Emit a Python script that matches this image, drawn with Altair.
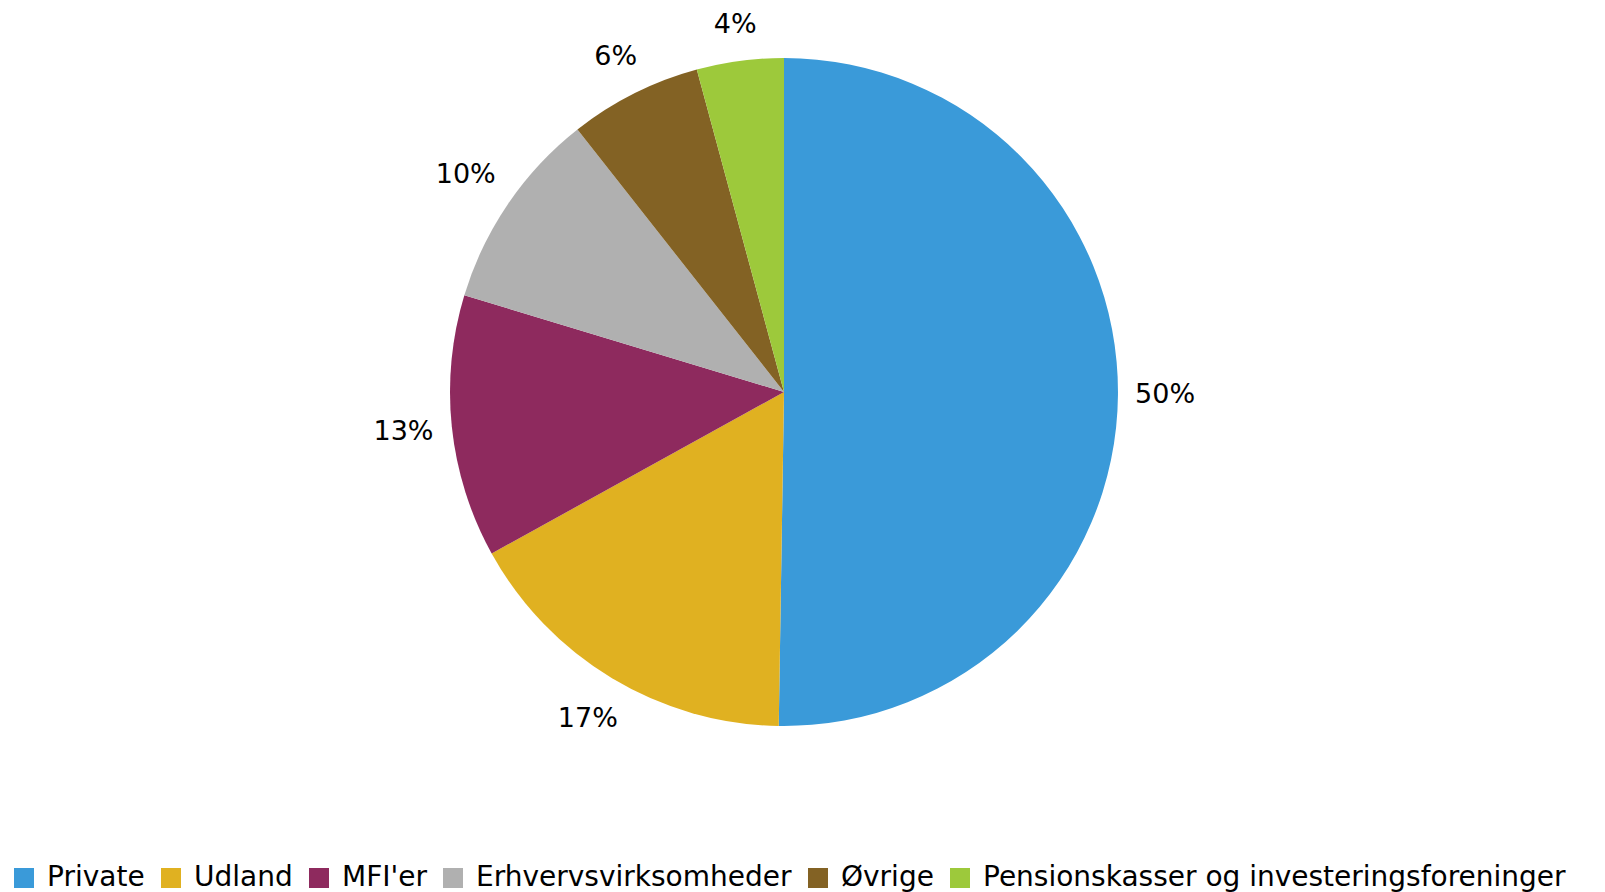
import altair as alt
import pandas as pd

categories = ["Private", "Udland", "MFI'er", "Erhvervsvirksomheder", "Øvrige",
              "Pensionskasser og investeringsforeninger"]
values = [50.2, 16.7, 12.7, 9.7, 6.4, 4.2]
labels = ["50%", "17%", "13%", "10%", "6%", "4%"]
colors = ["#3A9AD9", "#E0B121", "#8E2A5E", "#B0B0B0", "#836224", "#9DC93B"]

df = pd.DataFrame({"cat": categories, "val": values, "lab": labels,
                   "ord": list(range(len(categories)))})

FONT = "DejaVu Sans"
CX, CY = 776, 380
R = 334

pie = alt.Chart(df).mark_arc(outerRadius=R).encode(
    theta=alt.Theta("val:Q", stack=True),
    order=alt.Order("ord:Q"),
    x=alt.value(CX),
    y=alt.value(CY),
    color=alt.Color("cat:N",
                    scale=alt.Scale(domain=categories, range=colors),
                    sort=categories,
                    legend=alt.Legend(orient="none", direction="horizontal",
                                      columns=6, legendX=2, legendY=852,
                                      title=None, symbolType="square",
                                      symbolSize=400, symbolStrokeWidth=0,
                                      labelFont=FONT, labelFontSize=28,
                                      labelColor="#000000", labelOffset=9,
                                      columnPadding=12, labelLimit=1000)),
)

# label at the slice's middle angle, just outside the rim (box clears the rim)
text = alt.Chart(df).transform_window(
    cum="sum(val)", sort=[alt.SortField("ord")]
).transform_joinaggregate(
    total="sum(val)"
).transform_calculate(
    mid="2*PI*(datum.cum - datum.val/2)/datum.total"
).transform_calculate(
    r=f"{R} + 17 + abs(sin(datum.mid))*10*length(datum.lab) + abs(cos(datum.mid))*17"
).mark_text(font=FONT, fontSize=27, color="#000000",
            align="center", baseline="middle").encode(
    x=alt.value(CX),
    y=alt.value(CY),
    theta=alt.Theta("mid:Q", scale=None, stack=None),
    radius=alt.Radius("r:Q", scale=None, stack=None),
    text="lab:N",
)

chart = alt.layer(pie, text).properties(
    width=1589, height=864,
    autosize=alt.AutoSizeParams(type="none"),
    padding={"left": 0, "right": 0, "top": 4, "bottom": 16},
).configure_view(strokeWidth=0, stroke=None)

chart.save("out.html", embed_options={"renderer": "svg", "actions": False})
